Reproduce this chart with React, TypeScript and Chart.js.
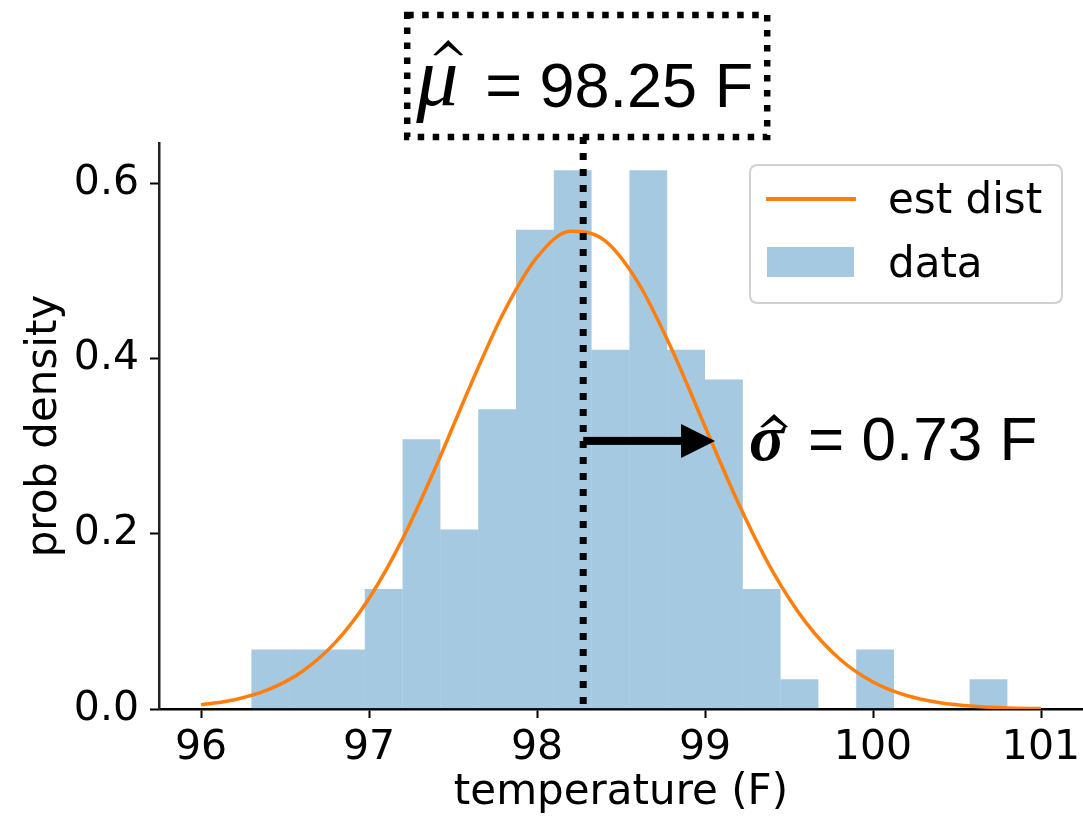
import React, { useEffect, useRef } from "react";
import { Chart, registerables } from "chart.js";

Chart.register(...registerables);

// Histogram bin edges (F) and density per bin
const binEdges = [
  96.3, 96.525, 96.75, 96.975, 97.2, 97.425, 97.65, 97.875, 98.1, 98.325, 98.55,
  98.775, 99.0, 99.225, 99.45, 99.675, 99.9, 100.125, 100.35, 100.575, 100.8,
];
const binDensity = [
  0.068, 0.068, 0.068, 0.137, 0.308, 0.205, 0.342, 0.547, 0.615, 0.41, 0.615,
  0.41, 0.376, 0.137, 0.034, 0, 0.068, 0, 0, 0.034,
];

// Estimated distribution curve
const curveX = [
  96.0, 96.2, 96.4, 96.6, 96.8, 97.0, 97.2, 97.4, 97.6, 97.8, 98.0, 98.2, 98.4,
  98.6, 98.8, 99.0, 99.2, 99.4, 99.6, 99.8, 100.0, 100.2, 100.4, 100.6, 100.8, 101.0,
];
const curveY = [
  0.0047, 0.0106, 0.022, 0.0425, 0.076, 0.1262, 0.1942, 0.2775, 0.3676, 0.452,
  0.5154, 0.5452, 0.5351, 0.4872, 0.4115, 0.3224, 0.2343, 0.158, 0.0989, 0.0574,
  0.0309, 0.0154, 0.0072, 0.0031, 0.0012, 0.0005,
];

const xTicks = [96, 97, 98, 99, 100, 101];
const yTicks = [0, 0.2, 0.4, 0.6];

const muLabel = "98.25";
const sigmaLabel = "0.73";
const muLineValue = 98.275;
const arrowTipValue = 99.06;
const arrowYValue = 0.306;

const legendLabels = ["est dist", "data"];

const ORANGE = "#ff7f0e";
const BLUE = "rgba(31,119,180,0.4)";

function drawHat(ctx: CanvasRenderingContext2D, cx: number, top: number, w: number, h: number) {
  ctx.save();
  ctx.fillStyle = "#000";
  ctx.beginPath();
  ctx.moveTo(cx - w / 2, top + h);
  ctx.lineTo(cx, top);
  ctx.lineTo(cx + w / 2, top + h);
  ctx.lineTo(cx + w / 2 - 3, top + h + 0.5);
  ctx.lineTo(cx, top + 6);
  ctx.lineTo(cx - w / 2 + 3, top + h + 0.5);
  ctx.closePath();
  ctx.fill();
  ctx.restore();
}

const annotationPlugin = {
  id: "annotations",
  afterDatasetsDraw(chart: any) {
    const { ctx, chartArea, scales } = chart;
    const x = scales.x;
    const y = scales.y;
    const mx = x.getPixelForValue(muLineValue);
    const boxTop = 15;
    const boxBottom = 137;

    ctx.save();
    // dotted vertical line
    ctx.strokeStyle = "#000";
    ctx.lineWidth = 7;
    ctx.lineCap = "butt";
    ctx.setLineDash([7, 9]);
    ctx.beginPath();
    ctx.moveTo(mx, boxBottom);
    ctx.lineTo(mx, chartArea.bottom);
    ctx.stroke();

    // dotted box
    ctx.lineWidth = 6.5;
    ctx.setLineDash([6.5, 8.5]);
    ctx.strokeRect(mx - 176, boxTop, 360, boxBottom - boxTop);
    ctx.setLineDash([]);

    // mu hat text
    ctx.fillStyle = "#000";
    ctx.textBaseline = "alphabetic";
    ctx.textAlign = "left";
    ctx.font = 'italic 84px "Liberation Serif"';
    ctx.fillText("\u03bc", mx - 167, 105);
    drawHat(ctx, mx - 135, 40, 30, 15);
    ctx.font = '63px "Liberation Sans"';
    ctx.fillText("= " + muLabel + " F", mx - 98, 107);

    // arrow
    const ay = y.getPixelForValue(arrowYValue);
    const tip = x.getPixelForValue(arrowTipValue);
    const headLen = 34;
    const headHalf = 17;
    ctx.fillRect(mx, ay - 4, tip - headLen - mx + 1, 8);
    ctx.beginPath();
    ctx.moveTo(tip, ay);
    ctx.lineTo(tip - headLen, ay - headHalf);
    ctx.lineTo(tip - headLen, ay + headHalf);
    ctx.closePath();
    ctx.fill();

    // sigma hat text
    ctx.font = 'italic bold 66px "Liberation Serif"';
    ctx.fillText("\u03c3", tip + 34, ay + 19);
    drawHat(ctx, tip + 59, ay - 27, 28, 13);
    ctx.font = '62px "Liberation Sans"';
    ctx.fillText("= " + sigmaLabel + " F", tip + 93, ay + 19);
    ctx.restore();
  },
  afterDraw(chart: any) {
    const { ctx, chartArea } = chart;
    const right = chartArea.right - 21;
    const top = chartArea.top + 22;
    const w = 312;
    const h = 138;
    const left = right - w;
    ctx.save();
    ctx.beginPath();
    const r = 8;
    ctx.moveTo(left + r, top);
    ctx.lineTo(left + w - r, top);
    ctx.quadraticCurveTo(left + w, top, left + w, top + r);
    ctx.lineTo(left + w, top + h - r);
    ctx.quadraticCurveTo(left + w, top + h, left + w - r, top + h);
    ctx.lineTo(left + r, top + h);
    ctx.quadraticCurveTo(left, top + h, left, top + h - r);
    ctx.lineTo(left, top + r);
    ctx.quadraticCurveTo(left, top, left + r, top);
    ctx.closePath();
    ctx.fillStyle = "rgba(255,255,255,0.8)";
    ctx.fill();
    ctx.strokeStyle = "#d0d0d0";
    ctx.lineWidth = 2;
    ctx.stroke();

    // line sample
    ctx.strokeStyle = ORANGE;
    ctx.lineWidth = 4;
    ctx.beginPath();
    ctx.moveTo(left + 16, top + 34);
    ctx.lineTo(left + 106, top + 34);
    ctx.stroke();
    // bar sample
    ctx.fillStyle = BLUE;
    ctx.fillRect(left + 17, top + 82, 87, 30);

    ctx.fillStyle = "#000";
    ctx.font = '42px "DejaVu Sans"';
    ctx.textAlign = "left";
    ctx.textBaseline = "alphabetic";
    ctx.fillText(legendLabels[0], left + 138, top + 48);
    ctx.fillText(legendLabels[1], left + 138, top + 112);
    ctx.restore();
  },
};

export default function App() {
  const canvasRef = useRef<HTMLCanvasElement | null>(null);

  useEffect(() => {
    const canvas = canvasRef.current;
    if (!canvas) return;

    const barData = binDensity.map((d, i) => ({
      x: (binEdges[i] + binEdges[i + 1]) / 2,
      y: d,
    }));
    const lineData = curveX.map((v, i) => ({ x: v, y: curveY[i] }));

    const chart = new Chart(canvas, {
      type: "bar",
      data: {
        datasets: [
          {
            type: "line",
            label: legendLabels[0],
            data: lineData,
            borderColor: ORANGE,
            borderWidth: 3.5,
            pointRadius: 0,
            cubicInterpolationMode: "monotone",
            fill: false,
            order: 0,
          } as any,
          {
            type: "bar",
            label: legendLabels[1],
            data: barData,
            backgroundColor: BLUE,
            borderWidth: 0,
            inflateAmount: 0,
            categoryPercentage: 1,
            barPercentage: 1,
            order: 1,
          } as any,
        ],
      },
      options: {
        animation: false,
        responsive: false,
        devicePixelRatio: 1,
        layout: { padding: { top: 143, left: 0, right: 0, bottom: 0 } },
        plugins: {
          legend: { display: false },
          tooltip: { enabled: false },
        },
        scales: {
          x: {
            type: "linear",
            min: 95.75,
            max: 101.25,
            offset: false,
            afterBuildTicks: (s: any) => {
              s.ticks = xTicks.map((v) => ({ value: v }));
            },
            afterFit: (s: any) => {
              s.height = 113;
              s.paddingLeft = 0;
              s.paddingRight = 0;
            },
            grid: {
              display: true,
              offset: false,
              drawOnChartArea: false,
              drawTicks: true,
              tickLength: 9,
              tickColor: "#000",
              tickWidth: 2,
            },
            border: { display: true, color: "#000", width: 2.5 },
            ticks: {
              color: "#000",
              font: { family: '"DejaVu Sans"', size: 41 },
              padding: 6,
              maxRotation: 0,
              autoSkip: false,
              callback: (v: any) => String(v),
            },
            title: {
              display: true,
              text: "temperature (F)",
              color: "#000",
              font: { family: '"DejaVu Sans"', size: 42 },
              padding: { top: 0, bottom: 4 },
            },
          },
          y: {
            type: "linear",
            min: 0,
            max: 0.646,
            afterBuildTicks: (s: any) => {
              s.ticks = yTicks.map((v) => ({ value: v }));
            },
            afterFit: (s: any) => {
              s.width = 159;
              s.paddingTop = 0;
              s.paddingBottom = 0;
            },
            grid: {
              display: true,
              drawOnChartArea: false,
              drawTicks: true,
              tickLength: 9,
              tickColor: "#000",
              tickWidth: 2,
            },
            border: { display: true, color: "#222", width: 2.5 },
            ticks: {
              color: "#000",
              font: { family: '"DejaVu Sans"', size: 41 },
              padding: 11,
              callback: (v: any) => Number(v).toFixed(1),
            },
            title: {
              display: true,
              text: "prob density",
              color: "#000",
              font: { family: '"DejaVu Sans"', size: 42 },
              padding: { top: 20, bottom: 0 },
            },
          },
        },
      },
      plugins: [annotationPlugin],
    });

    return () => chart.destroy();
  }, []);

  return (
    <div style={{ position: "fixed", left: 0, top: 0, width: 1083, height: 822, background: "#fff" }}>
      <canvas ref={canvasRef} width={1083} height={822} style={{ display: "block", width: 1083, height: 822 }} />
    </div>
  );
}
